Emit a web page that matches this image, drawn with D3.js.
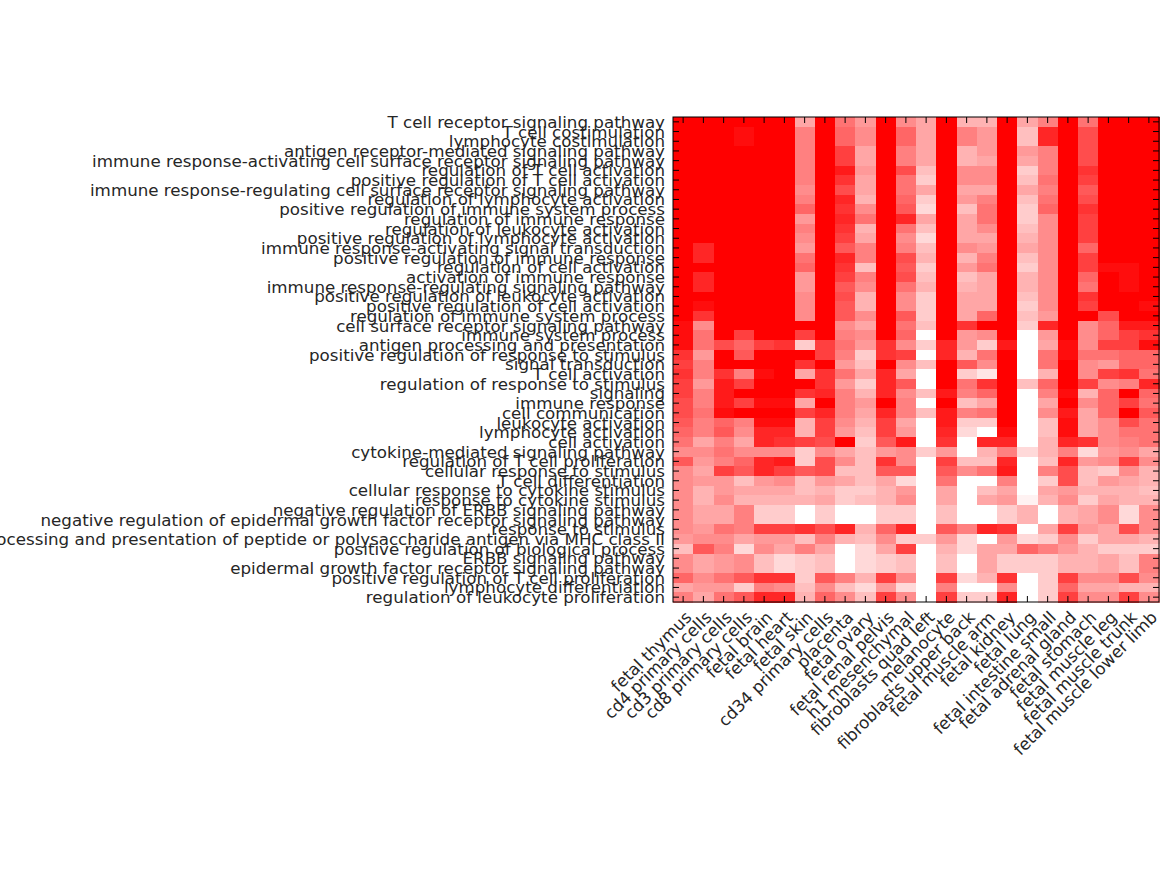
<!DOCTYPE html>
<html>
<head>
<meta charset="utf-8">
<script src="https://cdn.jsdelivr.net/npm/d3@7"></script>
<style>
  html, body { margin: 0; padding: 0; background: #ffffff; }
  svg { display: block; }
  text { font-family: "DejaVu Sans", sans-serif; fill: #262626; }
</style>
</head>
<body>
<svg id="chart" width="1167" height="875"></svg>
<script>
// ---- data ----
const rowLabels = [
  "T cell receptor signaling pathway",
  "T cell costimulation",
  "lymphocyte costimulation",
  "antigen receptor-mediated signaling pathway",
  "immune response-activating cell surface receptor signaling pathway",
  "regulation of T cell activation",
  "positive regulation of T cell activation",
  "immune response-regulating cell surface receptor signaling pathway",
  "regulation of lymphocyte activation",
  "positive regulation of immune system process",
  "regulation of immune response",
  "regulation of leukocyte activation",
  "positive regulation of lymphocyte activation",
  "immune response-activating signal transduction",
  "positive regulation of immune response",
  "regulation of cell activation",
  "activation of immune response",
  "immune response-regulating signaling pathway",
  "positive regulation of leukocyte activation",
  "positive regulation of cell activation",
  "regulation of immune system process",
  "cell surface receptor signaling pathway",
  "immune system process",
  "antigen processing and presentation",
  "positive regulation of response to stimulus",
  "signal transduction",
  "T cell activation",
  "regulation of response to stimulus",
  "signaling",
  "immune response",
  "cell communication",
  "leukocyte activation",
  "lymphocyte activation",
  "cell activation",
  "cytokine-mediated signaling pathway",
  "regulation of T cell proliferation",
  "cellular response to stimulus",
  "T cell differentiation",
  "cellular response to cytokine stimulus",
  "response to cytokine stimulus",
  "negative regulation of ERBB signaling pathway",
  "negative regulation of epidermal growth factor receptor signaling pathway",
  "response to stimulus",
  "antigen processing and presentation of peptide or polysaccharide antigen via MHC class II",
  "positive regulation of biological process",
  "ERBB signaling pathway",
  "epidermal growth factor receptor signaling pathway",
  "positive regulation of T cell proliferation",
  "lymphocyte differentiation",
  "regulation of leukocyte proliferation"
];

const colLabels = [
  "fetal thymus", "cd4 primary cells", "cd3 primary cells", "cd8 primary cells",
  "fetal brain", "fetal heart", "fetal skin", "cd34 primary cells", "placenta",
  "fetal ovary", "fetal renal pelvis", "h1 mesenchymal", "fibroblasts quad left",
  "melanocyte", "fibroblasts upper back", "fetal muscle arm", "fetal kidney",
  "fetal lung", "fetal intestine small", "fetal adrenal gland", "fetal stomach",
  "fetal muscle leg", "fetal muscle trunk", "fetal muscle lower limb"
];

// enrichment score per row (GO term) and column (tissue), 0 = white, 1 = red
const values = [
  [1,1,1,1,1,1,0.35,1,0.55,0.4,1,0.45,0.35,1,0.3,0.3,1,0.35,0.5,1,0.55,1,1,1],
  [1,1,1,0.95,1,1,0.5,1,0.6,0.45,1,0.6,0.35,1,0.5,0.4,1,0.25,0.85,1,0.7,1,1,1],
  [1,1,1,0.95,1,1,0.5,1,0.6,0.45,1,0.6,0.35,1,0.5,0.4,1,0.25,0.85,1,0.7,1,1,1],
  [1,1,1,1,1,1,0.5,1,0.75,0.35,1,0.5,0.35,1,0.3,0.4,1,0.4,0.5,1,0.7,1,1,1],
  [1,1,1,1,1,1,0.5,1,0.75,0.35,1,0.5,0.35,1,0.3,0.35,1,0.35,0.5,1,0.7,1,1,1],
  [1,1,1,1,1,1,0.5,1,0.9,0.4,1,0.7,0.25,1,0.45,0.45,1,0.2,0.5,1,0.8,1,1,1],
  [1,1,1,1,1,1,0.5,1,0.8,0.35,1,0.55,0.2,1,0.45,0.45,1,0.25,0.55,1,0.75,1,1,1],
  [1,1,1,1,1,1,0.45,1,0.7,0.35,1,0.55,0.35,1,0.35,0.35,1,0.35,0.5,1,0.65,1,1,1],
  [1,1,1,1,1,1,0.5,1,0.85,0.3,1,0.6,0.2,1,0.4,0.5,1,0.25,0.55,1,0.7,1,1,1],
  [1,1,1,1,1,1,0.6,1,0.8,0.45,1,0.65,0.15,1,0.25,0.55,1,0.2,0.6,1,0.8,1,1,1],
  [1,1,1,1,1,1,0.4,1,0.85,0.55,1,0.85,0.35,1,0.35,0.55,1,0.2,0.45,1,0.75,1,1,1],
  [1,1,1,1,1,1,0.5,1,0.8,0.3,1,0.55,0.25,1,0.35,0.45,1,0.25,0.45,1,0.75,1,1,1],
  [1,1,1,1,1,1,0.45,1,0.75,0.35,1,0.45,0.15,1,0.35,0.35,1,0.3,0.45,1,0.75,1,1,1],
  [1,0.85,1,1,1,1,0.4,1,0.65,0.5,1,0.5,0.25,1,0.45,0.4,1,0.35,0.45,1,0.6,1,1,1],
  [1,0.85,1,1,1,1,0.55,1,0.85,0.5,1,0.7,0.3,1,0.3,0.5,1,0.25,0.45,1,0.75,1,1,1],
  [1,1,1,1,1,1,0.6,1,0.8,0.25,1,0.65,0.2,1,0.4,0.55,1,0.2,0.45,1,0.75,0.95,0.95,1],
  [1,0.85,1,1,1,1,0.4,1,0.75,0.5,1,0.7,0.25,1,0.25,0.35,1,0.3,0.45,1,0.6,1,0.95,1],
  [1,0.85,1,1,1,1,0.4,1,0.65,0.45,1,0.55,0.3,1,0.3,0.35,1,0.3,0.45,1,0.55,1,0.95,1],
  [1,1,1,1,1,1,0.45,1,0.7,0.3,1,0.45,0.2,1,0.35,0.35,1,0.25,0.45,1,0.8,1,1,1],
  [1,0.95,1,1,1,1,0.45,1,0.65,0.3,1,0.45,0.2,1,0.35,0.35,1,0.2,0.45,1,0.75,1,1,0.95],
  [1,0.8,1,1,1,1,0.45,1,0.65,0.45,1,0.65,0.2,1,0.35,0.6,1,0.25,0.4,1,1,0.7,1,1],
  [0.95,0.45,1,1,1,1,1,1,0.45,0.35,1,0.55,0.25,1,0.8,1,1,0.2,0.85,1,0.45,0.6,0.9,0.9],
  [0.95,0.55,1,0.75,1,1,0.75,1,0.5,0.45,1,0.6,0,1,0.4,0.45,1,0,0.4,1,0.45,0.6,0.75,0.8],
  [0.95,0.55,0.7,0.6,0.75,0.8,0.2,0.75,0.55,0.4,0.8,0.45,0.2,0.85,0.4,0.2,0.9,0,0.35,0.95,0.45,0.75,0.75,0.95],
  [0.8,0.4,1,0.65,1,1,1,0.75,0.5,0.2,0.8,0.75,0,0.85,0.3,0.55,1,0,0.55,0.95,0.55,0.55,0.6,0.6],
  [0.75,0.5,1,1,1,1,0.8,1,0.4,0.25,1,0.45,0.25,1,0.65,0.45,1,0,0.55,1,0.45,0.4,0.6,0.6],
  [0.8,0.5,0.8,0.5,0.95,1,0.35,0.8,0.55,0.35,0.85,0.35,0,1,0.2,0.1,1,0,0.3,1,0.45,0.75,0.8,0.55],
  [0.75,0.4,0.9,0.75,1,1,1,0.8,0.4,0.2,0.85,0.65,0,1,0.55,0.8,1,0.25,0.6,1,0.75,0.45,0.5,0.85],
  [0.75,0.5,0.9,1,1,1,0.8,0.85,0.5,0.3,0.85,0.45,0.25,0.9,0.5,0.6,1,0,0.5,0.95,0.3,0.6,1,0.6],
  [0.7,0.5,0.9,0.75,0.95,0.95,0.35,1,0.5,0.4,1,0.5,0,1,0.25,0.35,1,0,0.35,1,0.45,0.6,0.75,0.55],
  [0.7,0.55,0.95,1,1,1,0.75,0.85,0.5,0.35,0.85,0.5,0.25,0.9,0.5,0.55,1,0,0.45,0.9,0.35,0.6,1,0.65],
  [0.65,0.5,0.6,0.5,0.95,0.95,0.3,0.75,0.45,0.3,0.75,0.35,0,0.9,0.2,0.2,1,0,0.25,0.95,0.35,0.45,0.7,0.55],
  [0.6,0.5,0.65,0.45,0.85,0.85,0.3,0.75,0.4,0.25,0.75,0.4,0,0.85,0.15,0,0.95,0,0.25,0.95,0.35,0.45,0.55,0.55],
  [0.55,0.35,0.5,0.35,0.85,0.8,0.75,0.7,1,0.2,0.65,0.9,0,0.8,0,0.85,0.85,0,0.3,0.85,0.8,0.45,0.5,0.55],
  [0.45,0.45,0.55,0.45,0.45,0.45,0.2,0.45,0.35,0.25,0.4,0.45,0.2,0.4,0,0.3,0.5,0.15,0.3,0.5,0.15,0.4,0.45,0.35],
  [0.65,0.4,0.5,0.6,0.85,0.9,0.2,0.7,0.45,0.25,0.8,0.45,0,0.75,0.25,0.25,0.85,0,0.25,0.85,0.4,0.45,0.75,0.45],
  [0.45,0.35,0.75,0.65,0.85,0.75,0.65,0.7,0.25,0.25,0.65,0.65,0,0.65,0.45,0.55,0.9,0,0.5,0.7,0.25,0.2,0.45,0.3],
  [0.45,0.4,0.4,0.25,0.4,0.45,0.25,0.4,0.35,0.25,0.35,0.15,0,0.55,0,0,0.5,0,0.2,0.7,0.25,0.4,0.35,0.3],
  [0.45,0.3,0.4,0.35,0.35,0.35,0.25,0.3,0.2,0.2,0.3,0.4,0,0.35,0,0.25,0.35,0,0.35,0.4,0.3,0.3,0.3,0.25],
  [0.45,0.3,0.45,0.3,0.3,0.3,0.3,0.35,0.2,0.25,0.3,0.45,0,0.35,0,0.35,0.4,0.05,0.3,0.45,0.2,0.35,0.3,0.3],
  [0.45,0.35,0.35,0.5,0.2,0.2,0,0.2,0,0,0.2,0.2,0,0.25,0,0,0.2,0.3,0,0.3,0.35,0.45,0.15,0.45],
  [0.45,0.35,0.35,0.5,0.2,0.2,0,0.2,0,0,0.2,0.2,0,0.25,0,0,0.2,0.3,0,0.3,0.35,0.45,0.15,0.45],
  [0.45,0.4,0.55,0.5,0.75,0.75,0.8,0.7,0.85,0.3,0.6,0.85,0,0.65,0.5,0.85,0.8,0,0.35,0.75,0.4,0.35,0.7,0.45],
  [0.4,0.45,0.45,0.35,0.4,0.4,0.25,0.5,0.3,0.25,0.45,0.2,0.2,0.4,0.15,0,0.4,0.15,0.2,0.45,0.2,0.35,0.35,0.3],
  [0.25,0.65,0.5,0.15,0.45,0.35,0.5,0.35,0,0.15,0.35,0.75,0,0.3,0.15,0.35,0.35,0.6,0.5,0.4,0.3,0.2,0.2,0.2],
  [0.45,0.35,0.4,0.45,0.25,0.15,0.2,0.25,0,0.15,0.2,0.25,0,0.25,0,0.35,0.2,0.2,0.2,0.3,0.3,0.35,0.25,0.5],
  [0.45,0.35,0.4,0.45,0.25,0.15,0.2,0.25,0,0.15,0.2,0.25,0,0.25,0,0.35,0.2,0.2,0.2,0.3,0.3,0.35,0.25,0.5],
  [0.6,0.45,0.55,0.65,0.8,0.8,0.2,0.65,0.5,0.3,0.75,0.45,0,0.75,0.15,0.3,0.8,0,0.2,0.75,0.45,0.45,0.7,0.45],
  [0.35,0.4,0.4,0.2,0.5,0.45,0.25,0.45,0.25,0.15,0.4,0.15,0,0.5,0,0,0.45,0,0.2,0.6,0.35,0.35,0.3,0.3],
  [0.5,0.35,0.55,0.65,0.85,0.85,0.3,0.6,0.45,0.25,0.75,0.45,0,0.75,0.2,0.2,0.85,0,0.2,0.75,0.45,0.45,0.75,0.45]
];

// ---- layout ----
const W = 1167, H = 875;
const plot = { left: 673, right: 1159, top: 117, bottom: 602 };
const fontPx = 16.7;
const tickLen = 6;

const svg = d3.select("#chart");
svg.append("rect").attr("width", W).attr("height", H).attr("fill", "#ffffff");

const x = d3.scaleBand().domain(d3.range(colLabels.length)).range([plot.left, plot.right]).padding(0);
const y = d3.scaleBand().domain(d3.range(rowLabels.length)).range([plot.top, plot.bottom]).padding(0);
const color = d3.scaleLinear().domain([0, 1]).range(["#ffffff", "#ff0000"]).clamp(true);

const cells = [];
values.forEach((row, i) => row.forEach((v, j) => cells.push({ i, j, v })));

svg.append("g").selectAll("rect").data(cells).join("rect")
  .attr("x", d => x(d.j))
  .attr("y", d => y(d.i))
  .attr("width", x.bandwidth() + 0.5)
  .attr("height", y.bandwidth() + 0.5)
  .attr("fill", d => color(d.v))
  .attr("shape-rendering", "crispEdges");

// axes with inward ticks on all four sides
const xc = j => x(j) + x.bandwidth() / 2;
const yc = i => y(i) + y.bandwidth() / 2;

const axBottom = d3.axisBottom(d3.scaleLinear().domain([0, 1]).range([0, 1]));
const tickG = svg.append("g").attr("stroke", "#000").attr("stroke-width", 1);
d3.range(colLabels.length).forEach(j => {
  tickG.append("line").attr("x1", xc(j)).attr("x2", xc(j)).attr("y1", plot.top).attr("y2", plot.top + tickLen);
  tickG.append("line").attr("x1", xc(j)).attr("x2", xc(j)).attr("y1", plot.bottom).attr("y2", plot.bottom - tickLen);
});
d3.range(rowLabels.length).forEach(i => {
  tickG.append("line").attr("x1", plot.left).attr("x2", plot.left + tickLen).attr("y1", yc(i)).attr("y2", yc(i));
  tickG.append("line").attr("x1", plot.right).attr("x2", plot.right - tickLen).attr("y1", yc(i)).attr("y2", yc(i));
});

// frame
svg.append("rect")
  .attr("x", plot.left).attr("y", plot.top)
  .attr("width", plot.right - plot.left).attr("height", plot.bottom - plot.top)
  .attr("fill", "none").attr("stroke", "#000").attr("stroke-width", 1);

// row labels
svg.append("g").selectAll("text").data(rowLabels).join("text")
  .attr("x", plot.left - 8)
  .attr("y", (d, i) => yc(i))
  .attr("dy", "0.36em")
  .attr("text-anchor", "end")
  .style("font-size", fontPx + "px")
  .text(d => d);

// column labels, rotated 45 degrees
svg.append("g").selectAll("text").data(colLabels).join("text")
  .attr("transform", (d, j) => `translate(${xc(j)},${plot.bottom + 7}) rotate(-45)`)
  .attr("dy", "0.8em")
  .attr("text-anchor", "end")
  .style("font-size", fontPx + "px")
  .text(d => d);
</script>
</body>
</html>
